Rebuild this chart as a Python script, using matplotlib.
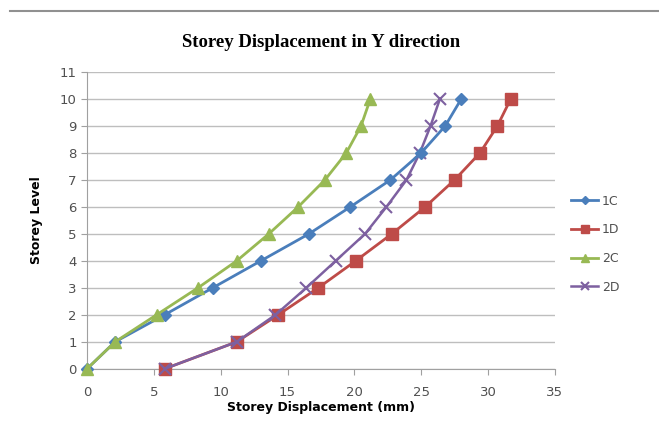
import matplotlib.pyplot as plt
from matplotlib.lines import Line2D

levels = [0, 1, 2, 3, 4, 5, 6, 7, 8, 9, 10]
disp_1c = [0, 2.1, 5.8, 9.4, 13.0, 16.6, 19.7, 22.7, 25.0, 26.8, 28.0]
disp_1d = [5.8, 11.2, 14.3, 17.3, 20.1, 22.8, 25.3, 27.5, 29.4, 30.7, 31.7]
disp_2c = [0, 2.1, 5.2, 8.3, 11.2, 13.6, 15.8, 17.8, 19.4, 20.5, 21.2]
disp_2d = [5.8, 11.2, 14.1, 16.4, 18.6, 20.8, 22.4, 23.9, 24.9, 25.7, 26.4]

fig = plt.figure(figsize=(6.59, 4.23), dpi=100)
ax = fig.add_axes([0.132, 0.128, 0.71, 0.702])

# ordre de dibujo: rojo y violeta abajo
ax.plot(disp_1d, levels, color='#BE4B48', marker='s', markersize=8, lw=2, label='1D', zorder=3)
ax.plot(disp_2d, levels, color='#7D60A0', marker='x', markersize=8, mew=1.5, lw=1.8, label='2D', zorder=4)
ax.plot(disp_1c, levels, color='#4A7EBB', marker='D', markersize=6, lw=2, label='1C', zorder=5)
ax.plot(disp_2c, levels, color='#98B954', marker='^', markersize=8, lw=2, label='2C', zorder=6)

ax.set_xlim(0, 35)
ax.set_ylim(0, 11)
ax.set_xticks(range(0, 36, 5))
ax.set_yticks(range(0, 12))
ax.grid(axis='y', color='#BEBEBE', lw=1)
ax.set_axisbelow(True)
for s in ['top', 'right']:
    ax.spines[s].set_visible(False)
ax.spines['left'].set_color('#A0A0A0')
ax.spines['bottom'].set_color('#A0A0A0')
ax.tick_params(colors='#A0A0A0', labelcolor='#505050', labelsize=9.5, length=4)
ax.tick_params(axis='x', pad=8)
for ln in ax.lines:
    ln.set_clip_on(False)

ax.set_title('Storey Displacement in Y direction', fontfamily='Liberation Serif',
             fontweight='bold', fontsize=13.5, pad=18)
ax.set_xlabel('Storey Displacement (mm)', fontweight='bold', fontsize=9, labelpad=2)
ax.set_ylabel('Storey Level', fontweight='bold', fontsize=9, labelpad=12)

h = {ln.get_label(): ln for ln in ax.lines}
order = ['1C', '1D', '2C', '2D']
ax.legend([h[k] for k in order], order, loc='center left', bbox_to_anchor=(1.01, 0.42),
          frameon=False, fontsize=9, labelspacing=1.25, handlelength=2.2,
          handletextpad=0.3, markerscale=0.7, labelcolor='#505050')

fig.add_artist(Line2D([0.015, 1.0], [0.975, 0.975], color='#909090', lw=1.5))

fig.savefig('out.png', dpi=100)
